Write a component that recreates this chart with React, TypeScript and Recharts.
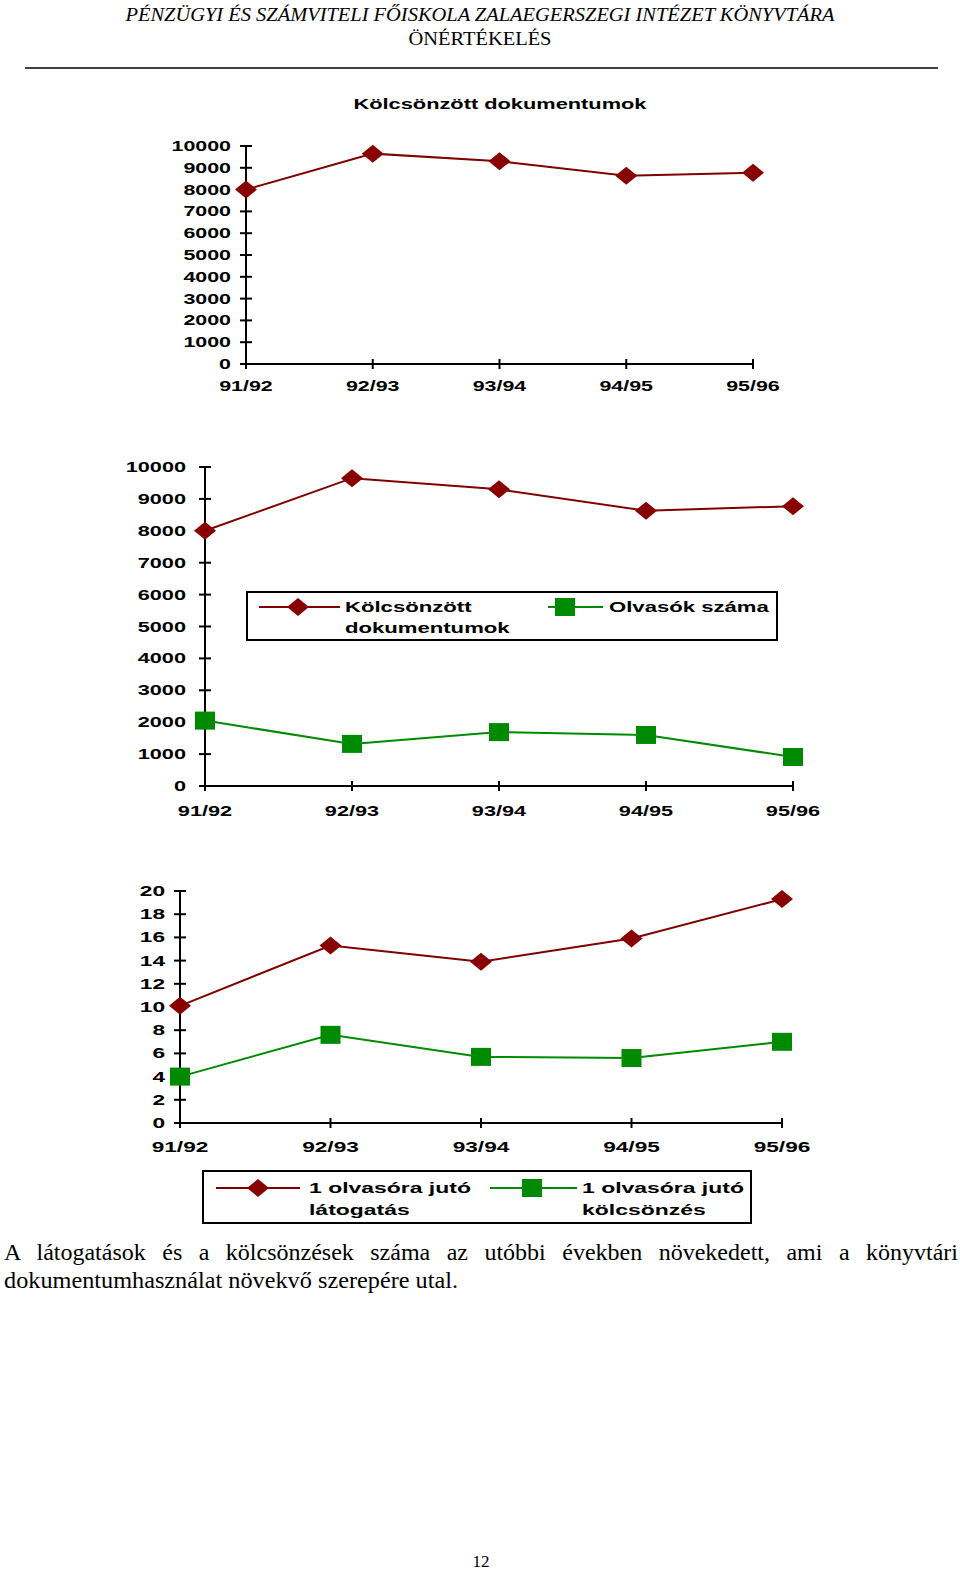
import React from 'react'
import { LineChart, Line, XAxis, YAxis, Legend } from 'recharts'

// tanévek
const years = ['91/92', '92/93', '93/94', '94/95', '95/96']

// kölcsönzött dokumentumok / olvasók száma
const kolcsonzott = [8000, 9650, 9300, 8630, 8770]
const olvasok = [2050, 1320, 1690, 1600, 910]

// 1 olvasóra jutó látogatás / kölcsönzés
const latogatas = [10.1, 15.3, 13.9, 15.9, 19.3]
const kolcsonzes = [4.0, 7.6, 5.7, 5.6, 7.0]

const ticksDocs = [0, 1000, 2000, 3000, 4000, 5000, 6000, 7000, 8000, 9000, 10000]
const ticksPer = [0, 2, 4, 6, 8, 10, 12, 14, 16, 18, 20]

const legendDocs = [['Kölcsönzött', 'dokumentumok'], ['Olvasók száma']]
const legendPer = [['1 olvasóra jutó', 'látogatás'], ['1 olvasóra jutó', 'kölcsönzés']]

const docData = years.map((ev, i) => ({ ev, kolcs: kolcsonzott[i], olv: olvasok[i] }))
const perData = years.map((ev, i) => ({ ev, lat: latogatas[i], kol: kolcsonzes[i] }))

const SANS = '"Liberation Sans", Arial, sans-serif'
const SERIF = '"Liberation Serif", "Times New Roman", serif'
const RED = '#800000'
const RED_MARK = '#880000'
const GREEN = '#008a00'
const GREEN_MARK = '#008a00'

function Wide({ x, y, sx, anchor, children }: any) {
  return (
    <text
      transform={`translate(${x},${y}) scale(${sx},1)`}
      textAnchor={anchor}
      fontFamily={SANS}
      fontWeight="bold"
      fontSize={14}
      fill="#000"
    >
      {children}
    </text>
  )
}

function Diamond({ cx, cy, fill }: any) {
  if (cx == null || cy == null) return null
  return <polygon points={`${cx},${cy - 9} ${cx + 11},${cy} ${cx},${cy + 9} ${cx - 11},${cy}`} fill={fill} />
}

function Square({ cx, cy, fill }: any) {
  if (cx == null || cy == null) return null
  return <rect x={cx - 10} y={cy - 9} width={20} height={18} fill={fill} />
}

const yTick = (gap: number, sx: number) => (props: any) => {
  const { x, y, payload } = props
  return (
    <g>
      <line x1={x - 6} x2={x + 6} y1={y} y2={y} stroke="#000" strokeWidth={2} />
      <Wide x={x - gap} y={y + 5} sx={sx} anchor="end">{payload.value}</Wide>
    </g>
  )
}

const xTick = (gap: number, sx: number) => (props: any) => {
  const { x, y, payload } = props
  return (
    <g>
      <line x1={x} x2={x} y1={y - 5} y2={y + 5} stroke="#000" strokeWidth={2} />
      <Wide x={x} y={y + gap} sx={sx} anchor="middle">{payload.value}</Wide>
    </g>
  )
}

function LegendBox({ w, h, slots, labels, sx, lineY, baselines }: any) {
  const colors = [RED, GREEN]
  const marks = [RED_MARK, GREEN_MARK]
  return (
    <svg width={w} height={h} style={{ display: 'block', overflow: 'visible' }}>
      <rect x={1} y={1} width={w - 2} height={h - 2} fill="#fff" stroke="#000" strokeWidth={2} />
      {slots.map((s: number[], i: number) => {
        const Marker = i === 0 ? Diamond : Square
        return (
          <g key={i}>
            <line x1={s[0]} x2={s[1]} y1={lineY} y2={lineY} stroke={colors[i]} strokeWidth={2} />
            <Marker cx={s[2]} cy={lineY} fill={marks[i]} />
            {labels[i].map((t: string, j: number) => (
              <Wide key={j} x={s[3]} y={baselines[j]} sx={sx} anchor="start">{t}</Wide>
            ))}
          </g>
        )
      })}
    </svg>
  )
}

const axisLine = { stroke: '#000', strokeWidth: 2 }

// axes are drawn in one chart (with invisible copies of the series so the
// axes get their data), the visible series in a second one stacked on top,
// so the markers cover the axis line like in the original
function Framed({ top, height, data, margin, domain, ticks, xGap, yGap, sx, children }: any) {
  const ghosts = React.Children.map(children, (c: any) =>
    c && c.type === Line ? React.cloneElement(c, { stroke: 'none', dot: false }) : null
  )
  return (
    <div style={{ position: 'absolute', left: 0, top, width: 960, height }}>
      <div style={{ position: 'absolute', left: 0, top: 0 }}>
        <LineChart width={960} height={height} data={data} margin={margin}>
          <XAxis dataKey="ev" height={30} axisLine={axisLine} tickLine={false} tickSize={0} tickMargin={0}
            interval={0} tick={xTick(xGap, sx)} />
          <YAxis width={60} domain={domain} ticks={ticks} axisLine={axisLine} tickLine={false}
            tickSize={0} tickMargin={0} interval={0} tick={yTick(yGap, sx)} />
          {ghosts}
        </LineChart>
      </div>
      <div style={{ position: 'absolute', left: 0, top: 0 }}>
        <LineChart width={960} height={height} data={data} margin={margin}>
          <XAxis dataKey="ev" height={30} axisLine={false} tickLine={false} tick={false} />
          <YAxis width={60} domain={domain} ticks={ticks} axisLine={false} tickLine={false} tick={false} />
          {children}
        </LineChart>
      </div>
    </div>
  )
}

export default function App() {
  return (
    <div style={{ position: 'absolute', left: 0, top: 0, width: 960, height: 1571, background: '#fff' }}>
      <svg width={960} height={1571} style={{ position: 'absolute', left: 0, top: 0 }}>
        <text x={480} y={21} textAnchor="middle" fontFamily={SERIF} fontStyle="italic" fontSize={19}
          textLength={709} lengthAdjust="spacingAndGlyphs">
          PÉNZÜGYI ÉS SZÁMVITELI FŐISKOLA ZALAEGERSZEGI INTÉZET KÖNYVTÁRA
        </text>
        <text x={480} y={45} textAnchor="middle" fontFamily={SERIF} fontSize={19}
          textLength={143} lengthAdjust="spacingAndGlyphs">
          ÖNÉRTÉKELÉS
        </text>
        <line x1={25} x2={938} y1={68} y2={68} stroke="#000" strokeWidth={1.5} />
        <text x={500} y={109} textAnchor="middle" fontFamily={SANS} fontWeight="bold" fontSize={14}
          textLength={293} lengthAdjust="spacingAndGlyphs">
          Kölcsönzött dokumentumok
        </text>
        <text x={4} y={1288} fontFamily={SERIF} fontSize={23} textLength={454} lengthAdjust="spacingAndGlyphs">
          dokumentumhasználat növekvő szerepére utal.
        </text>
        <text x={481} y={1567} textAnchor="middle" fontFamily={SERIF} fontSize={17}>12</text>
      </svg>

      <div
        style={{
          position: 'absolute', left: 4, top: 1238, width: 954, fontFamily: SERIF, fontSize: 24,
          lineHeight: '28px', textAlign: 'justify', textAlignLast: 'justify', color: '#000',
        }}
      >
        A látogatások és a kölcsönzések száma az utóbbi években növekedett, ami a könyvtári
      </div>

      <Framed top={130} height={280} data={docData} margin={{ top: 16, right: 207, bottom: 16, left: 186 }}
        domain={[0, 10000]} ticks={ticksDocs} xGap={27} yGap={15} sx={1.53}>
        <Line type="linear" dataKey="kolcs" stroke={RED} strokeWidth={2} isAnimationActive={false}
          activeDot={false} dot={(p: any) => <Diamond key={p.index} {...p} fill={RED_MARK} />} />
      </Framed>

      <Framed top={450} height={380} data={docData} margin={{ top: 17, right: 167, bottom: 14, left: 145 }}
        domain={[0, 10000]} ticks={ticksDocs} xGap={30} yGap={19} sx={1.55}>
        <Line type="linear" dataKey="kolcs" name="Kölcsönzött dokumentumok" stroke={RED} strokeWidth={2}
          isAnimationActive={false} activeDot={false}
          dot={(p: any) => <Diamond key={p.index} {...p} fill={RED_MARK} />} />
        <Line type="linear" dataKey="olv" name="Olvasók száma" stroke={GREEN} strokeWidth={2}
          isAnimationActive={false} activeDot={false}
          dot={(p: any) => <Square key={p.index} {...p} fill={GREEN_MARK} />} />
        <Legend layout="horizontal" verticalAlign="middle" align="center"
          wrapperStyle={{ left: 246, top: 141, width: 532, height: 50 }}
          content={() => (
            <LegendBox w={532} h={50} sx={1.58} lineY={16} baselines={[21, 42]} labels={legendDocs}
              slots={[[13, 94, 52, 99], [302, 357, 319, 363]]} />
          )} />
      </Framed>

      <Framed top={870} height={360} data={perData} margin={{ top: 21, right: 178, bottom: 77, left: 120 }}
        domain={[0, 20]} ticks={ticksPer} xGap={29} yGap={15} sx={1.62}>
        <Line type="linear" dataKey="lat" name="1 olvasóra jutó látogatás" stroke={RED} strokeWidth={2}
          isAnimationActive={false} activeDot={false}
          dot={(p: any) => <Diamond key={p.index} {...p} fill={RED_MARK} />} />
        <Line type="linear" dataKey="kol" name="1 olvasóra jutó kölcsönzés" stroke={GREEN} strokeWidth={2}
          isAnimationActive={false} activeDot={false}
          dot={(p: any) => <Square key={p.index} {...p} fill={GREEN_MARK} />} />
        <Legend layout="horizontal" verticalAlign="middle" align="center"
          wrapperStyle={{ left: 202, top: 300, width: 550, height: 54 }}
          content={() => (
            <LegendBox w={550} h={54} sx={1.64} lineY={18} baselines={[23, 45]} labels={legendPer}
              slots={[[14, 98, 56, 107], [288, 375, 330, 380]]} />
          )} />
      </Framed>
    </div>
  )
}
